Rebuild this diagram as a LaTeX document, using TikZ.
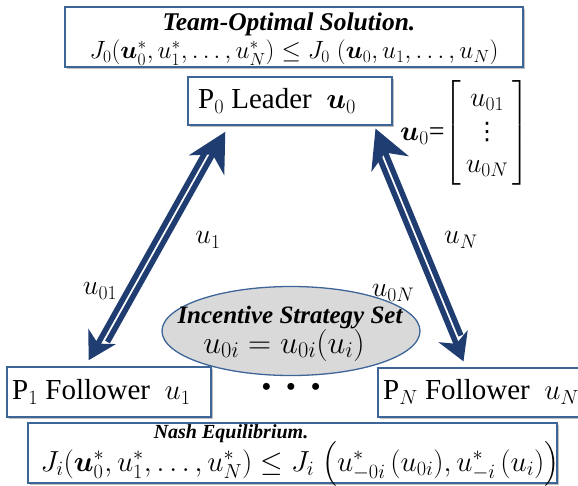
\RequirePackage{fix-cm}
\documentclass[tikz,border=0pt]{standalone}
\usepackage{amsmath,bm}
\usepackage{fontspec}
\setmainfont{Liberation Serif}
\newfontfamily\dejavu{DejaVu Sans}
\usetikzlibrary{arrows.meta,shadows,shapes.geometric}
\definecolor{boxblue}{HTML}{3D6598}
\definecolor{arrowblue}{HTML}{1F3D70}
\definecolor{ellfill}{HTML}{D9D9D9}
\newcommand{\myvdots}{\mbox{\dejavu\fontsize{24}{24}\selectfont ⋮}}
\tikzset{
  panel/.style={draw=boxblue, line width=2.8pt, fill=white,
    drop shadow={shadow xshift=1.5pt, shadow yshift=-1.5pt, opacity=0.25, fill=black}},
  txt/.style={inner sep=0pt, font=\fontsize{29}{37}\selectfont},
  mth/.style={inner sep=0pt, font=\fontsize{28}{37}\selectfont},
  ttl/.style={inner sep=0pt, font=\fontsize{25.5}{28}\selectfont\bfseries\itshape},
  flow/.style={draw=arrowblue, line width=5.5pt},
  bighead/.style={-{Stealth[length=38pt,width=40pt,inset=12pt]}},
  smallhead/.style={-{Stealth[length=27pt,width=31pt,inset=8pt]}},
}
\begin{document}
\begin{tikzpicture}[x=1pt,y=-1pt]
\useasboundingbox (0,0) rectangle (578,485);

% boxes
\node[panel, minimum width=458pt, minimum height=60pt] (team) at (294,37) {};
\node[panel, minimum width=204pt, minimum height=48pt] (lead) at (290,101) {};
\node[panel, minimum width=204pt, minimum height=50pt] (f1) at (109,392) {};
\node[panel, minimum width=203pt, minimum height=49pt] (fn) at (479.5,392.5) {};
\node[panel, minimum width=529pt, minimum height=60pt] (nash) at (292.5,453) {};

% ellipse
\node[ellipse, draw=boxblue, line width=1.3pt, fill=ellfill,
      minimum width=258pt, minimum height=89pt] (ell) at (291,331) {};

% texts
\node[ttl] (teamt) at (289,24) {Team-Optimal Solution.};
\node[mth, font=\fontsize{25}{32}\selectfont] (teamf) at (294,53) {$J_0(\bm{u}_0^*, u_1^*, \ldots, u_N^*) \le J_0\;(\bm{u}_0, u_1, \ldots, u_N)$};
\node[txt, anchor=west] (leadt) at (198,101) {P$_0$ Leader\ \ $\bm{u}_0$};
\node[mth, anchor=west, font=\fontsize{28}{33}\selectfont] (vec) at (400,133) {$\bm{u}_0$=$\left[\begin{array}{@{\,}c@{\,}}u_{01}\\ \myvdots\\ u_{0N}\end{array}\right]$};
\node[txt, anchor=west] (f1t) at (12,392) {P$_1$ Follower\ \ $u_1$};
\node[txt, anchor=west] (fnt) at (383,392) {P$_N$ Follower\ \ $u_N$};
\node[txt] (dots) at (291,390) {\textbullet\ \ \textbullet\ \ \textbullet};
\node[ttl, font=\fontsize{25}{28}\selectfont\bfseries\itshape] (ellt) at (290,318) {Incentive Strategy Set};
\node[mth, font=\fontsize{32}{37}\selectfont] (ellf) at (284,345) {$u_{0i} = u_{0i}(u_i)$};
\node[ttl, font=\fontsize{20}{22}\selectfont\bfseries\itshape] (nasht) at (231,434) {Nash Equilibrium.};
\node[mth, font=\fontsize{29}{37}\selectfont] (nashf) at (300,464) {$J_i(\bm{u}_0^*, u_1^*, \ldots, u_N^*) \le J_i\;\bigl(u_{-0i}^*\,(u_{0i}), u_{-i}^*\,(u_i)\bigr)$};

% edge labels
\node[mth] (lu1) at (208,240) {$u_1$};
\node[mth] (lu01) at (100,291) {$u_{01}$};
\node[mth] (luN) at (461,240) {$u_N$};
\node[mth] (lu0N) at (393,293) {$u_{0N}$};

% arrow anchor points
\coordinate (a1s) at (107.5,342.0);
\coordinate (a1e) at (225.3,131.8);
\coordinate (d1s) at (206.5,150.0);
\coordinate (d1e) at (88.7,360.2);
\coordinate (aNs) at (460.9,335.5);
\coordinate (aNe) at (375.5,128.6);
\coordinate (dNs) at (378.1,154.5);
\coordinate (dNe) at (463.5,361.4);

\draw[flow, bighead] (a1s) -- (a1e);
\draw[flow, smallhead] (d1s) -- (d1e);
\draw[flow, bighead] (aNs) -- (aNe);
\draw[flow, smallhead] (dNs) -- (dNe);
\end{tikzpicture}
\end{document}
